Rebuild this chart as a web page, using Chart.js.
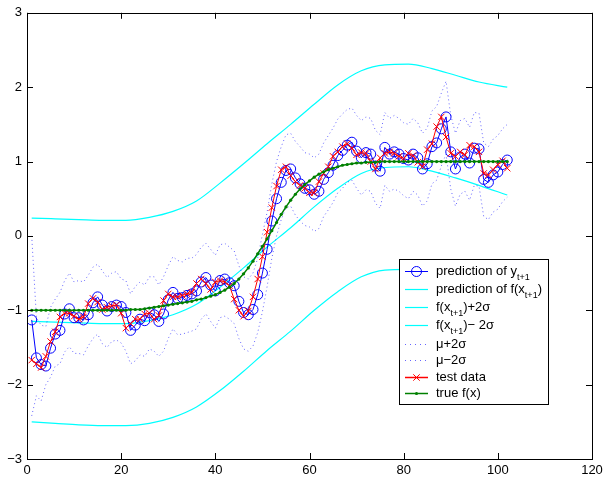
<!DOCTYPE html>
<html><head><meta charset="utf-8">
<script src="https://cdn.jsdelivr.net/npm/chart.js@4.4.0/dist/chart.umd.min.js"></script>
<style>html,body{margin:0;padding:0;background:#fff;}#wrap{width:608px;height:481px;}</style>
</head><body><div id="wrap"><canvas id="c" width="608" height="481"></canvas></div>
<script>
const xs = [1,2,3,4,5,6,7,8,9,10,11,12,13,14,15,16,17,18,19,20,21,22,23,24,25,26,27,28,29,30,31,32,33,34,35,36,37,38,39,40,41,42,43,44,45,46,47,48,49,50,51,52,53,54,55,56,57,58,59,60,61,62,63,64,65,66,67,68,69,70,71,72,73,74,75,76,77,78,79,80,81,82,83,84,85,86,87,88,89,90,91,92,93,94,95,96,97,98,99,100,101,102];

const testData = [-1.67,-1.72,-1.77,-1.62,-1.42,-1.29,-1.09,-1.04,-1.04,-1.08,
 -1.12,-1.09,-0.91,-0.84,-0.89,-0.99,-0.96,-0.94,-0.93,-1.04,
 -1.24,-1.18,-1.12,-1.12,-1.05,-1.04,-1.12,-1.07,-0.87,-0.78,
 -0.82,-0.82,-0.80,-0.78,-0.76,-0.64,-0.58,-0.64,-0.72,-0.62,
 -0.60,-0.62,-0.67,-0.85,-1.00,-1.08,-1.01,-0.82,-0.58,-0.28,
 0.05,0.38,0.67,0.89,0.93,0.81,0.73,0.68,0.64,0.58,
 0.58,0.73,0.84,0.93,1.07,1.13,1.20,1.24,1.18,1.09,
 1.12,1.11,1.00,0.90,1.05,1.11,1.13,1.11,1.07,1.04,
 1.11,1.08,0.99,0.93,1.16,1.24,1.47,1.60,1.33,1.11,
 1.07,1.13,1.09,1.22,1.20,1.13,0.84,0.82,0.89,0.96,
 1.01,0.91];

const predY = [-1.13,-1.64,-1.73,-1.75,-1.51,-1.32,-1.27,-1.05,-0.98,-1.10,
 -1.10,-1.13,-1.06,-0.90,-0.82,-0.93,-1.01,-0.95,-0.93,-0.95,
 -1.03,-1.27,-1.20,-1.12,-1.14,-1.03,-1.06,-1.15,-1.05,-0.86,
 -0.76,-0.84,-0.83,-0.80,-0.78,-0.74,-0.62,-0.56,-0.66,-0.74,
 -0.60,-0.58,-0.63,-0.67,-0.88,-1.03,-1.06,-0.99,-0.79,-0.50,
 -0.18,0.20,0.50,0.72,0.88,0.90,0.78,0.70,0.64,0.62,
 0.56,0.60,0.76,0.85,0.95,1.08,1.15,1.22,1.26,1.14,
 1.05,1.12,1.10,0.94,0.87,1.19,1.10,1.13,1.10,1.04,
 1.02,1.10,1.05,0.90,0.97,1.20,1.25,1.44,1.60,1.13,
 0.90,1.06,1.10,0.98,1.18,1.17,0.76,0.72,0.82,0.86,
 0.96,1.02];

const trueF = [-1,-1,-1,-1,-1,-1,-1,-1,-1,-1,
 -1,-1,-1,-1,-1,-1,-1,-1,-1,-1,
 -1,-0.99,-0.99,-0.99,-0.98,-0.97,-0.96,-0.95,-0.94,-0.93,
 -0.92,-0.91,-0.90,-0.89,-0.88,-0.86,-0.85,-0.83,-0.81,-0.79,
 -0.76,-0.73,-0.69,-0.64,-0.58,-0.51,-0.43,-0.34,-0.24,-0.14,
 -0.04,0.07,0.18,0.29,0.39,0.48,0.56,0.63,0.69,0.74,
 0.79,0.83,0.86,0.89,0.91,0.93,0.95,0.96,0.97,0.98,
 0.98,0.99,0.99,0.99,1,1,1,1,1,1,
 1,1,1,1,1,1,1,1,1,1,
 1,1,1,1,1,1,1,1,1,1,
 1,1];

const muPlus = [0.00,-1.10,-1.20,-1.22,-0.96,-0.85,-0.76,-0.60,-0.50,-0.62,
 -0.60,-0.62,-0.53,-0.42,-0.38,-0.47,-0.56,-0.50,-0.48,-0.58,
 -0.60,-0.78,-0.68,-0.62,-0.66,-0.55,-0.55,-0.66,-0.55,-0.40,
 -0.28,-0.33,-0.35,-0.30,-0.30,-0.25,-0.15,-0.10,-0.18,-0.26,
 -0.12,-0.10,-0.15,-0.20,-0.40,-0.55,-0.58,-0.50,-0.30,0.02,
 0.32,0.70,1.00,1.20,1.36,1.38,1.27,1.20,1.12,1.10,
 1.05,1.10,1.25,1.35,1.45,1.57,1.64,1.70,1.72,1.62,
 1.55,1.60,1.58,1.42,1.36,1.66,1.58,1.62,1.58,1.52,
 1.50,1.58,1.52,1.38,1.45,1.68,1.74,1.92,2.08,1.62,
 1.38,1.55,1.58,1.46,1.66,1.65,1.25,1.20,1.30,1.35,
 1.44,1.50];

const muMinus = [-2.42,-2.15,-2.22,-2.00,-1.90,-1.75,-1.72,-1.56,-1.49,-1.58,
 -1.58,-1.60,-1.48,-1.38,-1.32,-1.45,-1.50,-1.42,-1.40,-1.44,
 -1.55,-1.72,-1.68,-1.60,-1.62,-1.52,-1.55,-1.62,-1.55,-1.38,
 -1.25,-1.33,-1.32,-1.30,-1.28,-1.25,-1.12,-1.05,-1.15,-1.24,
 -1.10,-1.08,-1.12,-1.18,-1.38,-1.52,-1.55,-1.48,-1.30,-1.02,
 -0.68,-0.30,0.00,0.22,0.38,0.40,0.28,0.20,0.14,0.12,
 0.06,0.10,0.26,0.35,0.45,0.58,0.64,0.72,0.75,0.64,
 0.55,0.62,0.60,0.44,0.37,0.68,0.60,0.63,0.60,0.54,
 0.50,0.60,0.55,0.40,0.47,0.70,0.75,0.94,1.10,0.63,
 0.40,0.56,0.60,0.48,0.68,0.67,0.26,0.22,0.32,0.36,
 0.46,0.52];

const fX     = [1,6,11,16,21,26,31,36,41,46,51,56,61,66,71,76,81,86,91,96,102];
const predF  = [-1.15,-1.16,-1.17,-1.18,-1.18,-1.14,-1.06,-0.92,-0.69,-0.43,-0.15,0.11,0.39,0.64,0.84,0.92,0.93,0.87,0.78,0.68,0.55];
const fPlus  = [0.24,0.23,0.22,0.21,0.21,0.25,0.33,0.47,0.71,0.97,1.24,1.50,1.77,2.03,2.22,2.30,2.31,2.25,2.16,2.07,2.00];
const fMinus = [-2.50,-2.52,-2.54,-2.55,-2.55,-2.52,-2.44,-2.30,-2.08,-1.82,-1.54,-1.28,-1.00,-0.75,-0.55,-0.46,-0.45,-0.50,-0.60,-0.70,-0.85];

const xTicks = [0,20,40,60,80,100,120];
const yTicks = [-3,-2,-1,0,1,2,3];

const legendEntries = [
  ['prediction of y','t+1',''],
  ['prediction of f(x','t+1',')'],
  ['f(x','t+1',')+2\u03C3'],
  ['f(x','t+1',')\u2212 2\u03C3'],
  ['\u03BC+2\u03C3','',''],
  ['\u03BC\u22122\u03C3','',''],
  ['test data','',''],
  ['true f(x)','','']
];

const BLUE = '#0000ff', CYAN = '#00ffff', DOT = 'rgba(0,0,255,0.6)', RED = 'rgb(255,0,0)', GREEN = '#008000';
const legendStyles = [
  {color:BLUE, width:1, dash:[], marker:'circle'},
  {color:CYAN, width:1.2, dash:[], marker:null},
  {color:CYAN, width:1.2, dash:[], marker:null},
  {color:CYAN, width:1.2, dash:[], marker:null},
  {color:DOT, width:1, dash:[1,4], marker:null},
  {color:DOT, width:1, dash:[1,4], marker:null},
  {color:RED, width:1.5, dash:[], marker:'x'},
  {color:GREEN, width:1.5, dash:[], marker:'dot'}
];

const pts = (xa, ya) => xa.map((x,i)=>({x:x, y:ya[i]}));
const FONT = '"Liberation Sans", Arial, Helvetica, sans-serif';

const datasets = [
  {data: pts(xs,predY), borderColor:BLUE, borderWidth:1, pointStyle:'circle', pointRadius:5, pointBorderWidth:1, pointBackgroundColor:'rgba(0,0,0,0)', pointBorderColor:BLUE, order:2},
  {data: pts(fX,predF), borderColor:CYAN, borderWidth:1.2, pointRadius:0, cubicInterpolationMode:'monotone', order:4},
  {data: pts(fX,fPlus), borderColor:CYAN, borderWidth:1.2, pointRadius:0, cubicInterpolationMode:'monotone', order:4},
  {data: pts(fX,fMinus), borderColor:CYAN, borderWidth:1.2, pointRadius:0, cubicInterpolationMode:'monotone', order:4},
  {data: pts(xs,muPlus), borderColor:DOT, borderWidth:1, borderDash:[1,3], pointRadius:0, order:3},
  {data: pts(xs,muMinus), borderColor:DOT, borderWidth:1, borderDash:[1,3], pointRadius:0, order:3},
  {data: pts(xs,testData), borderColor:RED, borderWidth:1, pointStyle:'crossRot', pointRadius:4.5, pointBorderWidth:1, pointBorderColor:RED, order:1},
  {data: pts(xs,trueF), borderColor:GREEN, borderWidth:1.5, pointStyle:'circle', pointRadius:1.6, pointBorderWidth:0, pointBackgroundColor:GREEN, order:0}
];

const framePlugin = {
  id:'frameAndLegend',
  afterDraw(chart){
    const ctx = chart.ctx, a = chart.chartArea;
    const sx = chart.scales.x, sy = chart.scales.y;
    ctx.save();
    ctx.strokeStyle = '#000'; ctx.lineWidth = 1;
    ctx.strokeRect(Math.round(a.left)+0.5, Math.round(a.top)+0.5, Math.round(a.right-a.left), Math.round(a.bottom-a.top));
    const tl = 6;
    ctx.beginPath();
    xTicks.forEach(v=>{
      const px = Math.round(sx.getPixelForValue(v))+0.5;
      ctx.moveTo(px, a.bottom); ctx.lineTo(px, a.bottom-tl);
      ctx.moveTo(px, a.top); ctx.lineTo(px, a.top+tl);
    });
    yTicks.forEach(v=>{
      const py = Math.round(sy.getPixelForValue(v))+0.5;
      ctx.moveTo(a.left, py); ctx.lineTo(a.left+tl, py);
      ctx.moveTo(a.right, py); ctx.lineTo(a.right-tl, py);
    });
    ctx.stroke();
    ctx.restore();

    // legend
    ctx.save();
    const bx = 399.5, by = 259.5, bw = 149, bh = 145;
    ctx.fillStyle = '#fff';
    ctx.fillRect(bx, by, bw, bh);
    ctx.strokeStyle = '#000';
    ctx.lineWidth = 1;
    ctx.strokeRect(bx, by, bw, bh);
    ctx.restore();
    const rows = [271, 289, 307, 325, 344, 360, 377, 393];
    const lx0 = 405, lx1 = 428, tx = 436;
    legendEntries.forEach((e, i)=>{
      const st = legendStyles[i];
      const y = rows[i] + 0.5;
      const cx = (lx0+lx1)/2;
      ctx.save();
      ctx.globalAlpha = 1;
      ctx.setLineDash(st.dash);
      ctx.lineWidth = st.width;
      ctx.strokeStyle = st.color;
      ctx.beginPath(); ctx.moveTo(lx0, y); ctx.lineTo(lx1, y); ctx.stroke();
      ctx.setLineDash([]);
      ctx.lineWidth = 1;
      ctx.strokeStyle = st.color;
      if (st.marker === 'circle') {
        ctx.beginPath(); ctx.arc(cx, y, 5, 0, Math.PI*2); ctx.stroke();
      } else if (st.marker === 'x') {
        const r = 3.2;
        ctx.beginPath();
        ctx.moveTo(cx-r,y-r); ctx.lineTo(cx+r,y+r);
        ctx.moveTo(cx+r,y-r); ctx.lineTo(cx-r,y+r);
        ctx.stroke();
      } else if (st.marker === 'dot') {
        ctx.fillStyle = st.color;
        ctx.beginPath(); ctx.arc(cx, y, 1.6, 0, Math.PI*2); ctx.fill();
      }
      ctx.restore();
      ctx.save();
      ctx.fillStyle = '#000';
      ctx.textBaseline = 'middle';
      ctx.textAlign = 'left';
      ctx.font = '13px ' + FONT;
      let x = tx;
      ctx.fillText(e[0], x, y);
      x += ctx.measureText(e[0]).width;
      if (e[1]) {
        ctx.font = '9px ' + FONT;
        ctx.fillText(e[1], x, y + 6);
        x += ctx.measureText(e[1]).width;
        ctx.font = '13px ' + FONT;
      }
      if (e[2]) ctx.fillText(e[2], x, y);
      ctx.restore();
    });
  }
};

new Chart(document.getElementById('c'), {
  type: 'line',
  data: { datasets },
  options: {
    responsive: false,
    devicePixelRatio: 1,
    animation: false,
    events: [],
    layout: { padding: { top: 9, right: 16, left: 0, bottom: 0 } },
    plugins: { legend: { display: false }, tooltip: { enabled: false } },
    elements: { line: { tension: 0, fill: false } },
    scales: {
      x: {
        type: 'linear', min: 0, max: 120,
        afterBuildTicks: s => { s.ticks = xTicks.map(v=>({value:v})); },
        afterFit: s => { s.height = 22; },
        grid: { display: false, drawTicks: false },
        border: { display: false },
        ticks: { color:'#000', font:{ family: FONT, size: 13 }, padding: 4, maxRotation: 0, autoSkip: false, callback: v => String(v) }
      },
      y: {
        type: 'linear', min: -3, max: 3,
        afterBuildTicks: s => { s.ticks = yTicks.map(v=>({value:v})); },
        afterFit: s => { s.width = 27; },
        grid: { display: false, drawTicks: false },
        border: { display: false },
        ticks: { color:'#000', font:{ family: FONT, size: 13 }, padding: 5, autoSkip: false, callback: v => v < 0 ? '\u2212' + Math.abs(v) : String(v) }
      }
    }
  },
  plugins: [framePlugin]
});
</script>
</body></html>
